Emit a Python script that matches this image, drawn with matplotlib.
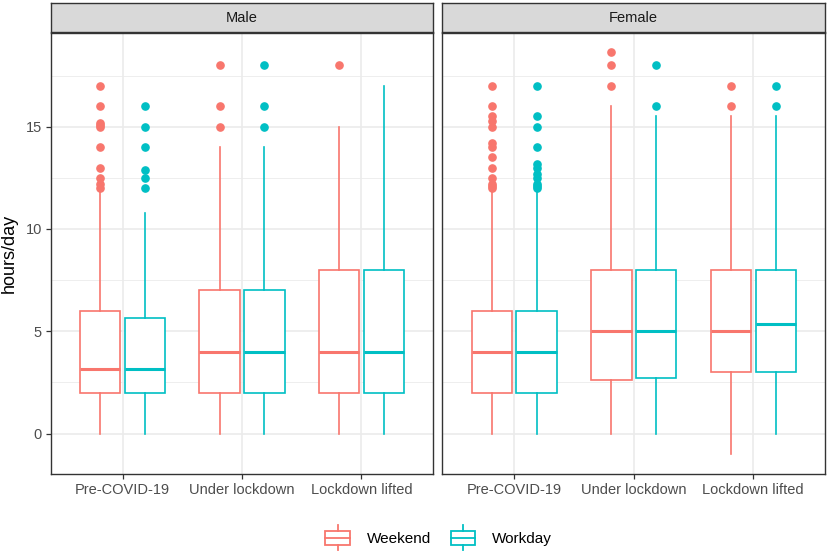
import matplotlib
matplotlib.use("Agg")
import matplotlib.pyplot as plt
from matplotlib.legend_handler import HandlerBase
from matplotlib.patches import Rectangle
from matplotlib.lines import Line2D

plt.rcParams['font.family'] = ['Liberation Sans', 'DejaVu Sans']

panels = ["Male", "Female"]
periods = ["Pre-COVID-19", "Under lockdown", "Lockdown lifted"]
groups = ["Weekend", "Workday"]
colors = {"Weekend": "#F8766D", "Workday": "#00BFC4"}

# stats[panel][group] -> per period
q1 = {
    "Male":   {"Weekend": [2, 2, 2],    "Workday": [2, 2, 2]},
    "Female": {"Weekend": [2, 2.62, 3], "Workday": [2, 2.73, 3]},
}
med = {
    "Male":   {"Weekend": [3.17, 4, 4], "Workday": [3.17, 4, 4]},
    "Female": {"Weekend": [4, 5, 5],    "Workday": [4, 5, 5.33]},
}
q3 = {
    "Male":   {"Weekend": [6, 7, 8], "Workday": [5.65, 7, 8]},
    "Female": {"Weekend": [6, 8, 8], "Workday": [6, 8, 8]},
}
whislo = {
    "Male":   {"Weekend": [0, 0, 0], "Workday": [0, 0, 0]},
    "Female": {"Weekend": [0, 0, -1], "Workday": [0, 0, 0]},
}
whishi = {
    "Male":   {"Weekend": [11.9, 14, 15], "Workday": [10.8, 14, 17]},
    "Female": {"Weekend": [11.9, 16, 15.5], "Workday": [11.9, 15.5, 15.5]},
}
outliers = {
    "Male": {
        "Weekend": [[12, 12.2, 12.5, 13, 14, 15, 15.1, 15.2, 16, 17], [15, 16, 18], [18]],
        "Workday": [[12, 12.5, 12.9, 14, 15, 16], [15, 16, 18], []],
    },
    "Female": {
        "Weekend": [[12, 12.1, 12.2, 12.5, 13, 13.5, 14, 14.2, 15, 15.3, 15.5, 16, 17],
                    [17, 18, 18.65], [16, 17]],
        "Workday": [[12, 12.1, 12.2, 12.5, 12.7, 13, 13.2, 14, 15, 15.5, 17],
                    [16, 18], [16, 17]],
    },
}
yticks = [0, 5, 10, 15]

W, H = 829, 553
fig = plt.figure(figsize=(W / 100, H / 100), dpi=100)
fig.patch.set_facecolor("white")

def fx(px):
    return px / W

def fy(py):
    return 1 - py / H

panel_x = [(51, 433), (442.5, 825)]
ptop, pbot = 33, 474
stop, sbot = 3, 32

offsets = {"Weekend": -0.1875, "Workday": 0.1875}
for pi, panel in enumerate(panels):
    x0, x1 = panel_x[pi]
    ax = fig.add_axes([fx(x0), fy(pbot), fx(x1 - x0), (pbot - ptop) / H])
    ax.set_xlim(0.4, 3.6)
    ax.set_ylim(-1.98, 19.58)
    ax.set_facecolor("white")
    for y in [2.5, 7.5, 12.5, 17.5]:
        ax.axhline(y, color="#EBEBEB", lw=0.6, zorder=0)
    for y in yticks:
        ax.axhline(y, color="#EBEBEB", lw=1.2, zorder=0)
    for x in [1, 2, 3]:
        ax.axvline(x, color="#EBEBEB", lw=1.2, zorder=0)
    for g in groups:
        stats = []
        for k in range(3):
            stats.append(dict(q1=q1[panel][g][k], med=med[panel][g][k], q3=q3[panel][g][k],
                              whislo=whislo[panel][g][k], whishi=whishi[panel][g][k],
                              fliers=outliers[panel][g][k]))
        pos = [k + 1 + offsets[g] for k in range(3)]
        c = colors[g]
        ax.bxp(stats, positions=pos, widths=0.3375, showcaps=False, patch_artist=True,
               boxprops=dict(facecolor="white", edgecolor=c, lw=1.2),
               medianprops=dict(color=c, lw=2.2),
               whiskerprops=dict(color=c, lw=1.2),
               flierprops=dict(marker="o", markerfacecolor=c, markeredgecolor=c,
                               markersize=5.2, linestyle="none"),
               manage_ticks=False, zorder=3)
    ax.set_xticks([1, 2, 3])
    ax.set_xticklabels(periods)
    ax.set_yticks(yticks)
    ax.tick_params(axis="both", colors="#333333", labelcolor="#4D4D4D", labelsize=10.5,
                   length=3.5, width=0.9, pad=3)
    if pi == 0:
        ax.set_yticklabels([str(v) for v in yticks])
        ax.set_ylabel("hours/day", fontsize=13, color="black", labelpad=6)
    else:
        ax.set_yticklabels([])
        ax.tick_params(axis="y", length=0)
    for s in ax.spines.values():
        s.set_color("#333333")
        s.set_linewidth(1.0)
        s.set_zorder(5)
    # strip
    sax = fig.add_axes([fx(x0), fy(sbot), fx(x1 - x0), (sbot - stop) / H])
    sax.set_facecolor("#D9D9D9")
    sax.set_xticks([])
    sax.set_yticks([])
    for s in sax.spines.values():
        s.set_color("#333333")
        s.set_linewidth(1.0)
    sax.text(0.5, 0.5, panel, ha="center", va="center", fontsize=10.5, color="#1A1A1A",
             transform=sax.transAxes)


class BoxHandler(HandlerBase):
    def __init__(self, color):
        super().__init__()
        self.color = color

    def create_artists(self, legend, orig_handle, xdescent, ydescent, width, height,
                       fontsize, trans):
        c = self.color
        bw = width * 0.9
        bx = (width - bw) / 2 - xdescent
        by0 = -ydescent + height * 0.05
        bh = height * 0.9
        rect = Rectangle((bx, by0), bw, bh, facecolor="white", edgecolor=c, lw=1.3,
                         transform=trans)
        cx = bx + bw / 2
        mid = Line2D([bx, bx + bw], [by0 + bh / 2] * 2, color=c, lw=1.3, transform=trans)
        w1 = Line2D([cx, cx], [by0 + bh, by0 + bh + height * 0.35], color=c, lw=1.3,
                    transform=trans)
        w2 = Line2D([cx, cx], [by0 - height * 0.35, by0], color=c, lw=1.3, transform=trans)
        return [rect, mid, w1, w2]


h1 = Rectangle((0, 0), 1, 1)
h2 = Line2D([0], [0])
leg = fig.legend([h1, h2], groups, loc="center", bbox_to_anchor=(fx(438), fy(538)),
                 ncol=2, frameon=False, fontsize=11, handlelength=1.8, handleheight=1.2,
                 handletextpad=1.0, columnspacing=1.2,
                 handler_map={h1: BoxHandler(colors["Weekend"]),
                              h2: BoxHandler(colors["Workday"])})

fig.savefig("out.png", dpi=100, facecolor="white")
